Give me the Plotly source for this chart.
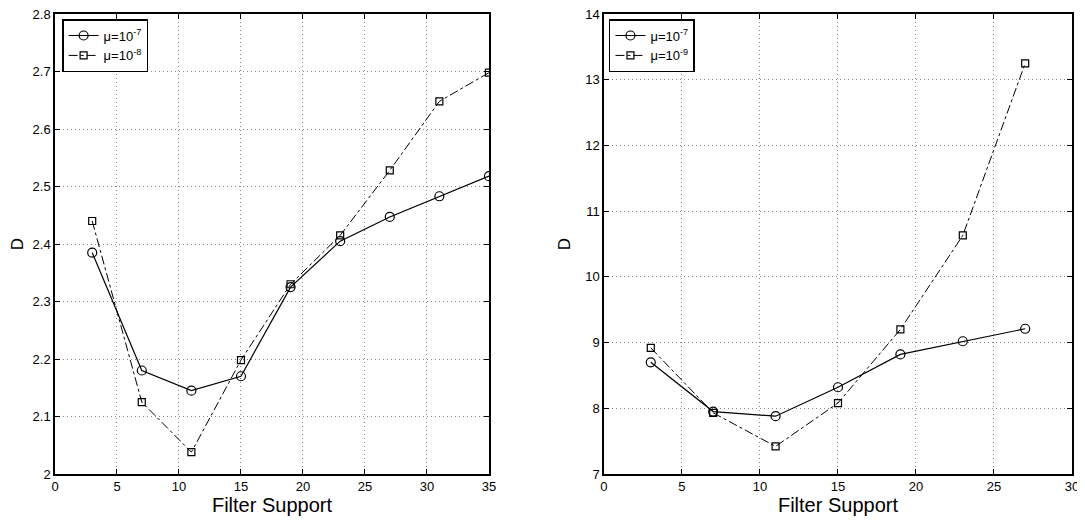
import plotly.graph_objects as go

# Left panel data
x_left = [3, 7, 11, 15, 19, 23, 27, 31, 35]
d_left_mu7 = [2.385, 2.180, 2.145, 2.170, 2.325, 2.405, 2.447, 2.483, 2.518]
d_left_mu8 = [2.440, 2.125, 2.038, 2.198, 2.330, 2.415, 2.528, 2.648, 2.698]

# Right panel data
x_right = [3, 7, 11, 15, 19, 23, 27]
d_right_mu7 = [8.70, 7.95, 7.88, 8.32, 8.82, 9.02, 9.21]
d_right_mu9 = [8.92, 7.93, 7.42, 8.08, 9.20, 10.63, 13.25]

left_xticks = [0, 5, 10, 15, 20, 25, 30, 35]
left_yticks = [2, 2.1, 2.2, 2.3, 2.4, 2.5, 2.6, 2.7, 2.8]
right_xticks = [0, 5, 10, 15, 20, 25, 30]
right_yticks = [7, 8, 9, 10, 11, 12, 13, 14]

FONT = "Liberation Sans, Arial, sans-serif"

fig = go.Figure()

fig.add_trace(go.Scatter(
    x=x_left, y=d_left_mu7, mode="lines+markers", name="μ=10<sup>-7</sup>",
    line=dict(color="black", width=1.2),
    marker=dict(symbol="circle-open", size=9, color="black", line=dict(width=1.2)),
    xaxis="x", yaxis="y", legend="legend"))
fig.add_trace(go.Scatter(
    x=x_left, y=d_left_mu8, mode="lines+markers", name="μ=10<sup>-8</sup>",
    line=dict(color="black", width=1, dash="dashdot"),
    marker=dict(symbol="square-open", size=7, color="black", line=dict(width=1.2)),
    xaxis="x", yaxis="y", legend="legend"))
fig.add_trace(go.Scatter(
    x=x_right, y=d_right_mu7, mode="lines+markers", name="μ=10<sup>-7</sup>",
    line=dict(color="black", width=1.2),
    marker=dict(symbol="circle-open", size=9, color="black", line=dict(width=1.2)),
    xaxis="x2", yaxis="y2", legend="legend2"))
fig.add_trace(go.Scatter(
    x=x_right, y=d_right_mu9, mode="lines+markers", name="μ=10<sup>-9</sup>",
    line=dict(color="black", width=1, dash="dashdot"),
    marker=dict(symbol="square-open", size=7, color="black", line=dict(width=1.2)),
    xaxis="x2", yaxis="y2", legend="legend2"))

axis_common = dict(
    showline=True, linecolor="black", linewidth=1.5, mirror="ticks",
    ticks="inside", ticklen=5, tickcolor="black", tickwidth=1,
    showgrid=True, gridcolor="#888888", griddash="1px,3px", gridwidth=1,
    zeroline=False, automargin=False, ticklabeloverflow="allow",
    tickfont=dict(family=FONT, size=13, color="black"),
)

# page has an 8px body margin, so the figure is sized to fit the 1085x523 window
fig.update_layout(
    width=1077, height=515,
    margin=dict(l=47, r=13, t=6, b=49),
    paper_bgcolor="white", plot_bgcolor="white",
    font=dict(family=FONT, color="black"),
    xaxis=dict(domain=[0.0, 0.4267], range=[0, 35], tickvals=left_xticks,
               title=dict(text="Filter Support", font=dict(size=20), standoff=2),
               anchor="y", **axis_common),
    yaxis=dict(domain=[0, 1], range=[2, 2.8], tickvals=left_yticks,
               ticktext=["2", "2.1", "2.2", "2.3", "2.4", "2.5", "2.6", "2.7", "2.8"],
               title=dict(text="D", font=dict(size=17), standoff=10),
               anchor="x", **axis_common),
    xaxis2=dict(domain=[0.5398, 1.0], range=[0, 30], tickvals=right_xticks,
                title=dict(text="Filter Support", font=dict(size=20), standoff=2),
                anchor="y2", **axis_common),
    yaxis2=dict(domain=[0, 1], range=[7, 14], tickvals=right_yticks,
                title=dict(text="D", font=dict(size=17), standoff=10),
                anchor="x2", **axis_common),
    legend=dict(x=0.007, y=0.989, xanchor="left", yanchor="top",
                bordercolor="black", borderwidth=1.5, bgcolor="white",
                font=dict(family=FONT, size=13), tracegroupgap=0,
                itemwidth=30),
    legend2=dict(x=0.5447, y=0.989, xanchor="left", yanchor="top",
                 bordercolor="black", borderwidth=1.5, bgcolor="white",
                 font=dict(family=FONT, size=13), tracegroupgap=0,
                 itemwidth=30),
)

fig.write_html("out.html")
